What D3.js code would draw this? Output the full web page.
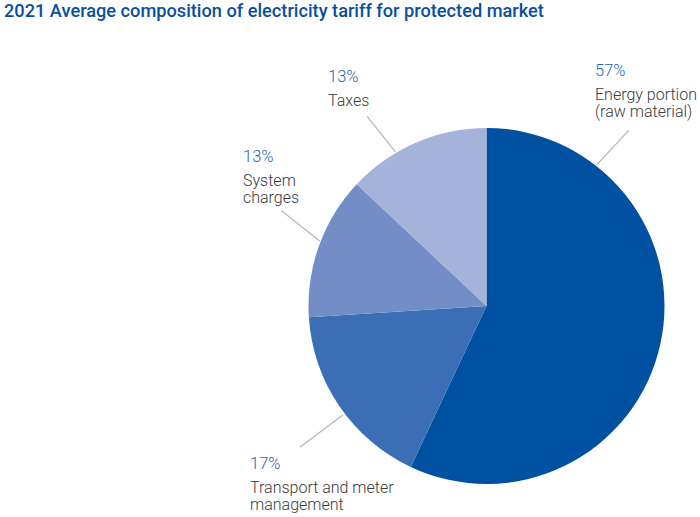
<!DOCTYPE html>
<html>
<head>
<meta charset="utf-8">
<script src="https://cdn.jsdelivr.net/npm/d3@7"></script>
<style>
  html, body { margin: 0; padding: 0; background: #fff; }
  svg { display: block; font-family: Roboto, "Noto Sans", sans-serif; }
</style>
</head>
<body>
<svg id="chart" width="700" height="517"></svg>
<script>
const title = "2021 Average composition of electricity tariff for protected market";
const categories = ["Energy portion (raw material)", "Transport and meter management", "System charges", "Taxes"];
const labelLines = [["Energy portion", "(raw material)"], ["Transport and meter", "management"], ["System", "charges"], ["Taxes"]];
const values = [57, 17, 13, 13];
const colors = ["#0051a2", "#3c6eb6", "#738dc6", "#a5b2da"];

// leader line layout: [start angle, start radius, end angle, end radius] (degrees clockwise from 12 o'clock)
const leaders = [[38, 179, 39, 226], [232.8, 180, 232.9, 234], [291.3, 179, 294.9, 226], [329.4, 179, 327.8, 224]];
const labelPos = [[595, 76], [250, 469], [243, 162], [328, 82]];

const svg = d3.select("#chart");
const cx = 486.5, cy = 306, r = 178;

svg.append("text")
  .attr("x", 4).attr("y", 17)
  .attr("fill", "#0a4f9c")
  .attr("font-size", 18.2)
  .attr("font-weight", 500)
  .text(title);

const pie = d3.pie().sort(null).value(d => d)(values);
const arc = d3.arc().innerRadius(0).outerRadius(r);

const g = svg.append("g").attr("transform", `translate(${cx},${cy})`);
g.selectAll("path").data(pie).join("path")
  .attr("d", arc)
  .attr("fill", (d, i) => colors[i]);

// leader lines
const rad = a => a * Math.PI / 180;
g.selectAll("line.leader").data(leaders).join("line")
  .attr("class", "leader")
  .attr("x1", l => Math.sin(rad(l[0])) * l[1])
  .attr("y1", l => -Math.cos(rad(l[0])) * l[1])
  .attr("x2", l => Math.sin(rad(l[2])) * l[3])
  .attr("y2", l => -Math.cos(rad(l[2])) * l[3])
  .attr("stroke", "#b5b5b5")
  .attr("stroke-width", 1.2);

// labels
const labels = svg.selectAll("g.lbl").data(values).join("g")
  .attr("class", "lbl")
  .attr("transform", (d, i) => `translate(${labelPos[i][0]},${labelPos[i][1]})`);

labels.append("text")
  .attr("fill", "#1e64ba")
  .attr("font-size", 16.5)
  .attr("font-weight", 300)
  .text(d => d + "%");

labels.each(function(d, i) {
  const t = d3.select(this).append("text")
    .attr("fill", "#3a3a3a")
    .attr("font-size", 16)
    .attr("font-weight", 300);
  labelLines[i].forEach((line, j) => {
    t.append("tspan").attr("x", 0).attr("y", 23.5 + j * 17).text(line);
  });
});
</script>
</body>
</html>
